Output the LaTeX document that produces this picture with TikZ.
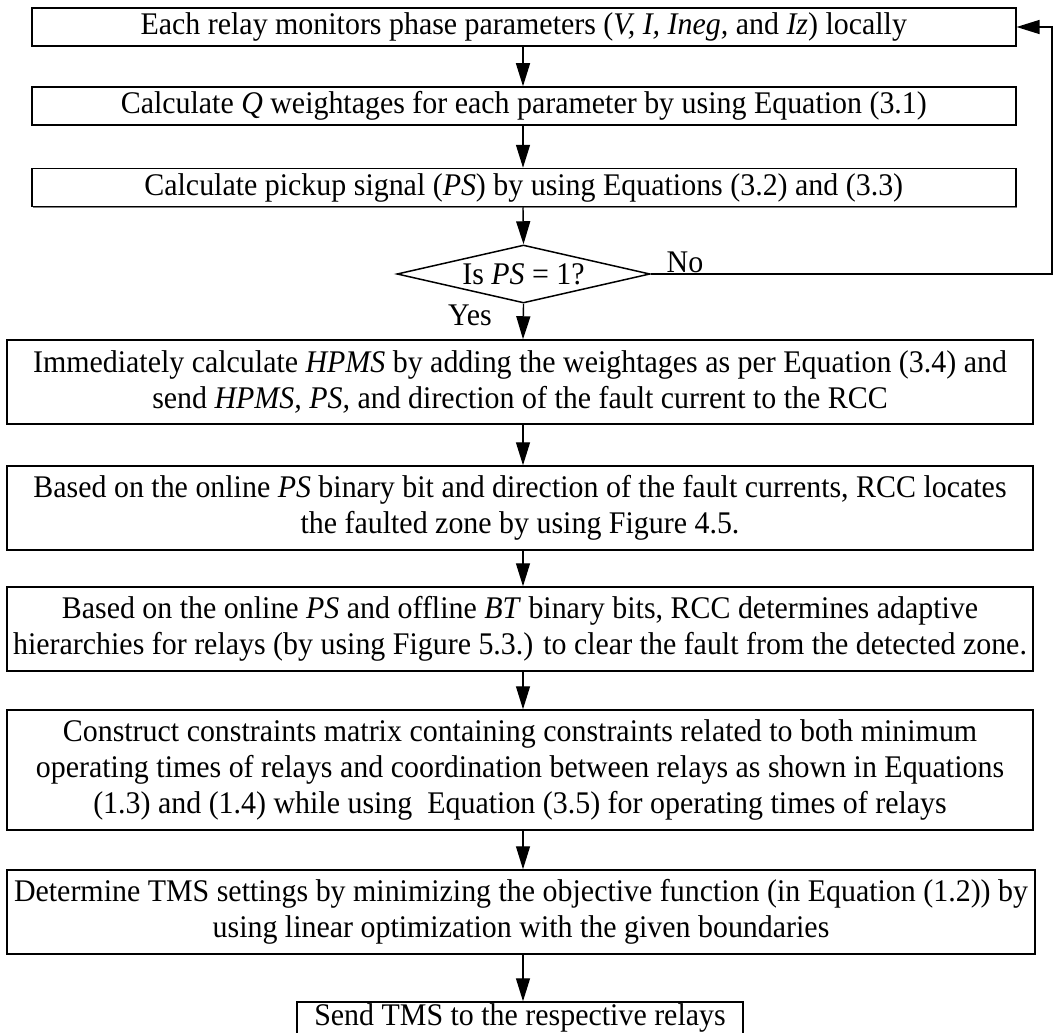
\documentclass[tikz,border=0pt]{standalone}
\usepackage{fontspec}
\setmainfont{Liberation Serif}[FakeStretch=0.95]
\usetikzlibrary{arrows.meta,shapes.geometric,shadows}
\begin{document}
\begin{tikzpicture}[x=1pt,y=-1pt,
  every node/.style={font=\fontsize{31.5}{36}\selectfont},
  stepbox/.style={draw,line width=1.5pt,rectangle,align=center,inner sep=0pt,
     drop shadow={shadow xshift=1.2pt,shadow yshift=-1.2pt,fill=black!50,opacity=1}, fill=white},
  decision/.style={draw,line width=1.5pt,diamond,aspect=4.36,inner sep=0pt,align=center},
  arr/.style={line width=1.4pt,-{Triangle[length=23pt,width=14pt]}}]
\useasboundingbox (0,0) rectangle (1055,1033);
\coordinate (colx) at (523,0);
\node[stepbox,minimum width=984,minimum height=38] (b1) at (523.8,27)
  {Each relay monitors phase parameters (\textit{V, I, Ineg,} and \textit{Iz}) locally};
\node[stepbox,minimum width=984,minimum height=38] (b2) at (523.8,106)
  {Calculate \textit{Q} weightages for each parameter by using Equation (3.1)};
\node[stepbox,minimum width=984,minimum height=38] (b3) at (523.8,187.5)
  {Calculate pickup signal (\textit{PS}) by using Equations (3.2) and (3.3)};
\node[decision,minimum width=253,minimum height=58] (d) at (523.5,274)
  {Is \textit{PS} = 1?};
\node[stepbox,minimum width=1026,minimum height=84] (b4) at (520,382)
  {Immediately calculate \textit{HPMS} by adding the weightages as per Equation (3.4) and\\
   send \textit{HPMS, PS,} and direction of the fault current to the RCC};
\node[stepbox,minimum width=1026,minimum height=84] (b5) at (520,508)
  {Based on the online \textit{PS} binary bit and direction of the fault currents, RCC locates\\
   the faulted zone by using Figure 4.5.};
\node[stepbox,minimum width=1026,minimum height=84] (b6) at (520,629)
  {Based on the online \textit{PS} and offline \textit{BT} binary bits, RCC determines adaptive\\
   hierarchies for relays (by using Figure 5.3.) to clear the fault from the detected zone.};
\node[stepbox,minimum width=1026,minimum height=120] (b7) at (520,770)
  {Construct constraints matrix containing constraints related to both minimum\\
   operating times of relays and coordination between relays as shown in Equations\\
   (1.3) and (1.4) while using\ \ Equation (3.5) for operating times of relays};
\node[stepbox,minimum width=1028,minimum height=84] (b8) at (521,912)
  {Determine TMS settings by minimizing the objective function (in Equation (1.2)) by\\
   using linear optimization with the given boundaries};
\node[stepbox,minimum width=446,minimum height=32] (b9) at (520,1018)
  {Send TMS to the respective relays};
\node (no) at (685,262) {No};
\node (yes) at (470,315) {Yes};
\coordinate (rx) at (1052,0);
\draw[arr] (b1.south -| colx) -- (b2.north -| colx);
\draw[arr] (b2.south -| colx) -- (b3.north -| colx);
\draw[arr] (b3.south -| colx) -- (d.north);
\draw[arr] (d.south) -- (b4.north -| colx);
\draw[arr] (b4.south -| colx) -- (b5.north -| colx);
\draw[arr] (b5.south -| colx) -- (b6.north -| colx);
\draw[arr] (b6.south -| colx) -- (b7.north -| colx);
\draw[arr] (b7.south -| colx) -- (b8.north -| colx);
\draw[arr] (b8.south -| colx) -- (b9.north -| colx);
\draw[arr] (d.east) -- (d.east -| rx) -- (b1.east -| rx) -- (b1.east);
\end{tikzpicture}
\end{document}
